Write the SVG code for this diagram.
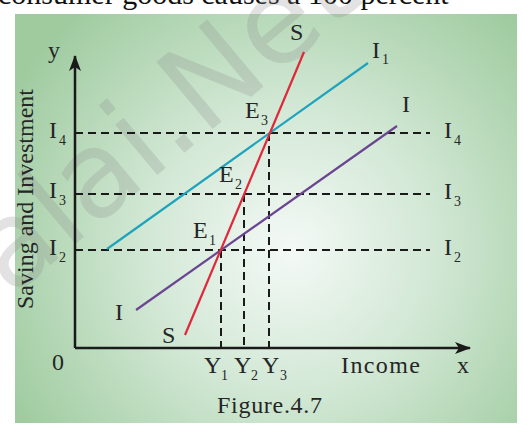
<svg xmlns="http://www.w3.org/2000/svg" width="523" height="430" viewBox="0 0 523 430">
<defs>
<radialGradient id="bg" gradientUnits="userSpaceOnUse" cx="290" cy="250" r="320">
<stop offset="0" stop-color="#f4f9f6"/>
<stop offset="0.45" stop-color="#d2e8d5"/>
<stop offset="1" stop-color="#9fcb9f"/>
</radialGradient>
<marker id="arr" markerWidth="16" markerHeight="12" refX="15" refY="6" orient="auto" markerUnits="userSpaceOnUse">
<path d="M0,0 L16,6 L0,12 L4,6 Z" fill="#1a1a1a"/>
</marker>
<style>
text{font-family:"Liberation Serif","Times New Roman",serif;fill:#262626}
.lb{font-size:24px}
.sb{font-size:14px}
.dash{stroke:#1a1a1a;stroke-width:2;stroke-dasharray:8 5;fill:none}
.ax{stroke:#1a1a1a;stroke-width:2.5;fill:none}
.crv{stroke-width:2.2;fill:none}
.wm{font-family:"DejaVu Sans",sans-serif;font-size:120px;fill:#8a8a8a;fill-opacity:0.25}
</style>
</defs>
<rect x="0" y="0" width="523" height="430" fill="#ffffff"/>
<text x="-2" y="4" style="font-size:30px;fill:#111">consumer goods causes a 100 percent</text>
<rect x="15" y="14" width="502" height="409" fill="url(#bg)"/>
<text class="wm" transform="translate(365,1) rotate(-40)" text-anchor="end">Padasalai.Net</text>

<g id="axes">
<line class="ax" x1="75" y1="348" x2="75" y2="56" marker-end="url(#arr)"/>
<line class="ax" x1="75" y1="348" x2="470" y2="348" marker-end="url(#arr)"/>
<text class="lb" x="48" y="58">y</text>
<text class="lb" x="52" y="370">0</text>
<text class="lb" x="457" y="373">x</text>
<text class="lb" x="341" y="373" textLength="79">Income</text>
<text class="lb" transform="translate(33,199) rotate(-90)" text-anchor="middle">Saving and Investment</text>
</g>

<g id="connectors">
<line class="dash" x1="75" y1="133" x2="430" y2="133"/>
<line class="dash" x1="75" y1="194" x2="430" y2="194"/>
<line class="dash" x1="75" y1="250" x2="430" y2="250"/>
<line class="dash" x1="221" y1="250" x2="221" y2="348"/>
<line class="dash" x1="244" y1="194" x2="244" y2="348"/>
<line class="dash" x1="269" y1="133" x2="269" y2="348"/>
</g>

<g id="curve-I1">
<line class="crv" x1="107" y1="249" x2="368" y2="63" stroke="#1fa3bd"/>
<text class="lb" x="372" y="58">I</text><text class="sb" x="382" y="64">1</text>
</g>
<g id="curve-I">
<line class="crv" x1="136" y1="310" x2="397" y2="126" stroke="#6a4592"/>
<text class="lb" x="402" y="112">I</text>
<text class="lb" x="115" y="320">I</text>
</g>
<g id="curve-S">
<line class="crv" x1="185" y1="335" x2="304" y2="52" stroke="#e0283a"/>
<text class="lb" x="290" y="40">S</text>
<text class="lb" x="162" y="343">S</text>
</g>

<g id="E1"><text class="lb" x="193" y="238">E</text><text class="sb" x="209" y="245">1</text></g>
<g id="E2"><text class="lb" x="219" y="182">E</text><text class="sb" x="235" y="189">2</text></g>
<g id="E3"><text class="lb" x="245" y="118">E</text><text class="sb" x="261" y="125">3</text></g>

<g id="levels-left">
<text class="lb" x="49" y="138">I</text><text class="sb" x="59" y="145">4</text>
<text class="lb" x="49" y="198">I</text><text class="sb" x="59" y="205">3</text>
<text class="lb" x="49" y="255">I</text><text class="sb" x="59" y="262">2</text>
</g>
<g id="levels-right">
<text class="lb" x="444" y="138">I</text><text class="sb" x="454" y="145">4</text>
<text class="lb" x="444" y="199">I</text><text class="sb" x="454" y="206">3</text>
<text class="lb" x="444" y="255">I</text><text class="sb" x="454" y="262">2</text>
</g>

<g id="Y-labels">
<text class="lb" x="204" y="373">Y</text><text class="sb" x="221" y="380">1</text>
<text class="lb" x="234" y="373">Y</text><text class="sb" x="251" y="380">2</text>
<text class="lb" x="262" y="373">Y</text><text class="sb" x="280" y="380">3</text>
</g>

<text class="lb" x="217" y="413" textLength="105">Figure.4.7</text>
</svg>
